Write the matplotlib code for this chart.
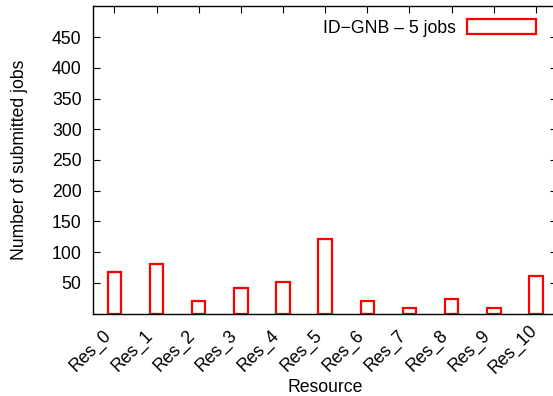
import matplotlib
matplotlib.use("Agg")
import matplotlib.pyplot as plt
from matplotlib.transforms import ScaledTranslation
import numpy as np

plt.rcParams['font.family'] = ['Liberation Sans', 'DejaVu Sans']

resources = ["Res_0", "Res_1", "Res_2", "Res_3", "Res_4", "Res_5",
             "Res_6", "Res_7", "Res_8", "Res_9", "Res_10"]
submitted_jobs = [68, 81, 20, 41, 52, 121, 20, 9, 24, 9, 61]
y_ticks = [50, 100, 150, 200, 250, 300, 350, 400, 450]
series_label = "ID\u2212GNB \u2013 5 jobs"

FS = 12.7
W, H = 553, 396
fig = plt.figure(figsize=(W / 100, H / 100), dpi=100)
left, right, top, bottom = 93.3, 557.0, 6.5, 313.5
ax = fig.add_axes([left / W, 1 - bottom / H, (right - left) / W, (bottom - top) / H])

x = np.arange(len(resources))
ax.bar(x, submitted_jobs, width=0.32, facecolor='none', edgecolor='#ff0000',
       linewidth=1.6, label=series_label)

ax.set_xlim(-0.5, len(resources) - 0.5)
ax.set_ylim(0, 500)
ax.set_yticks(y_ticks)
ax.set_xticks(x)
ax.set_xticklabels(resources, rotation=45, ha='right', va='baseline',
                   rotation_mode='anchor')

ax.tick_params(direction='in', top=True, right=True, length=5, width=0.8,
               labelsize=FS, colors='black')
ax.tick_params(axis='y', pad=8.4)
ax.tick_params(axis='x', bottom=False, pad=16.2)
for s in ax.spines.values():
    s.set_linewidth(1.0)

# rotated labels: right end sits just left of the tick, longer names drift up-right
for lbl in ax.get_xticklabels():
    extra = 5 * (len(lbl.get_text()) - 5)
    lbl.set_transform(lbl.get_transform() +
                      ScaledTranslation((-3 + extra) / 100, extra / 100,
                                        fig.dpi_scale_trans))

ax.set_xlabel("Resource", fontsize=FS)
ax.xaxis.label.set_va('baseline')
ax.xaxis.set_label_coords(325 / W, 1 - 392.5 / H, transform=fig.transFigure)
ax.set_ylabel("Number of submitted jobs", fontsize=FS)
ax.yaxis.label.set_va('center')
ax.yaxis.set_label_coords(20 / W, 1 - 160 / H, transform=fig.transFigure)

leg = ax.legend(loc='center right', bbox_to_anchor=(536 / W, 1 - 28 / H),
                bbox_transform=fig.transFigure, frameon=False,
                markerfirst=False, handlelength=3.9, handleheight=0.89,
                handletextpad=0.63, borderpad=0, borderaxespad=0,
                fontsize=FS)

fig.savefig("out.png", dpi=100)
